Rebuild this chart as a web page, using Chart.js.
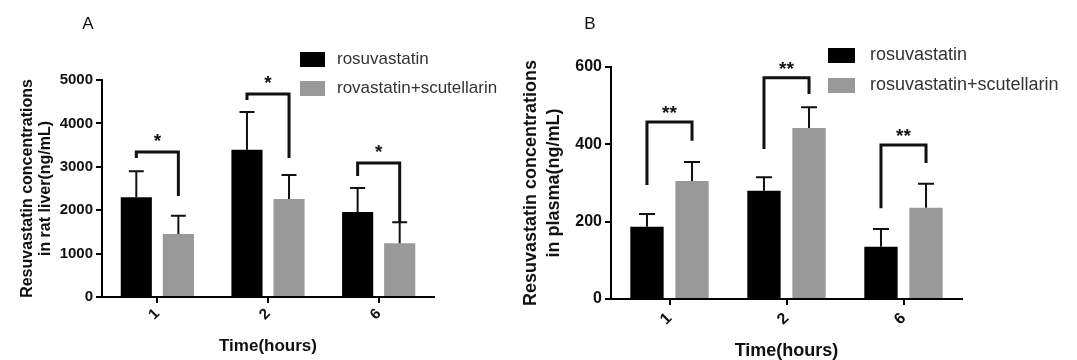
<!DOCTYPE html>
<html>
<head>
<meta charset="utf-8">
<script src="https://cdn.jsdelivr.net/npm/chart.js@4.4.1/dist/chart.umd.min.js"></script>
<style>
  body { margin: 0; background: #fff; }
  #wrap { position: relative; width: 1077px; height: 360px; overflow: hidden; }
  #liver-chart { position: absolute; left: 0; top: 0; }
  #plasma-chart { position: absolute; left: 490px; top: 0; }
</style>
</head>
<body>
<div id="wrap">
  <canvas id="liver-chart" width="540" height="360"></canvas>
  <canvas id="plasma-chart" width="587" height="360"></canvas>
</div>
<script>
// ==============================
// Data
// ==============================
const hours = ["1", "2", "6"];

// A: rat liver, ng/mL
const liverRosu = [2300, 3390, 1960];
const liverRosuSd = [600, 870, 550];
const liverScut = [1450, 2260, 1240];
const liverScutSd = [420, 550, 480];
const liverBracketTop = [3340, 4680, 3090];
const liverBracketLeft = [3200, 4540, 2790];
const liverBracketRight = [2330, 3200, 1730];
const liverStars = ["*", "*", "*"];

// B: plasma, ng/mL
const plasmaRosu = [187, 280, 135];
const plasmaRosuSd = [33, 35, 46];
const plasmaScut = [305, 442, 236];
const plasmaScutSd = [49, 54, 62];
const plasmaBracketTop = [458, 572, 398];
const plasmaBracketLeft = [295, 388, 235];
const plasmaBracketRight = [409, 530, 352];
const plasmaStars = ["**", "**", "**"];

const FONT = "'Liberation Sans', Arial, sans-serif";
const INK = "#111";

// ==============================
// Plugins
// ==============================
const errorBars = {
    id: "errorBars",
    afterDatasetsDraw(chart, args, opts) {
        const ctx = chart.ctx;
        const yScale = chart.scales.y;
        ctx.save();
        ctx.strokeStyle = INK;
        ctx.lineWidth = 2;
        chart.data.datasets.forEach(function (ds, i) {
            const meta = chart.getDatasetMeta(i);
            meta.data.forEach(function (bar, j) {
                const top = yScale.getPixelForValue(ds.data[j] + ds.errors[j]);
                ctx.beginPath();
                ctx.moveTo(bar.x, bar.y);
                ctx.lineTo(bar.x, top);
                ctx.moveTo(bar.x - opts.cap / 2, top);
                ctx.lineTo(bar.x + opts.cap / 2, top);
                ctx.stroke();
            });
        });
        ctx.restore();
    }
};

const sigBrackets = {
    id: "sigBrackets",
    afterDatasetsDraw(chart, args, opts) {
        const ctx = chart.ctx;
        const yScale = chart.scales.y;
        const a = chart.getDatasetMeta(0).data;
        const b = chart.getDatasetMeta(1).data;
        ctx.save();
        ctx.strokeStyle = INK;
        ctx.fillStyle = INK;
        ctx.lineWidth = 3;
        ctx.lineJoin = "miter";
        ctx.font = opts.font;
        ctx.textAlign = "center";
        ctx.textBaseline = "alphabetic";
        opts.top.forEach(function (v, j) {
            const yTop = yScale.getPixelForValue(v);
            ctx.beginPath();
            ctx.moveTo(a[j].x, yScale.getPixelForValue(opts.left[j]));
            ctx.lineTo(a[j].x, yTop);
            ctx.lineTo(b[j].x, yTop);
            ctx.lineTo(b[j].x, yScale.getPixelForValue(opts.right[j]));
            ctx.stroke();
            ctx.fillText(opts.labels[j], (a[j].x + b[j].x) / 2, yTop - opts.gap);
        });
        ctx.restore();
    }
};

const boxLegend = {
    id: "boxLegend",
    afterDraw(chart, args, opts) {
        const ctx = chart.ctx;
        ctx.save();
        ctx.font = opts.font;
        ctx.textBaseline = "middle";
        ctx.textAlign = "left";
        chart.data.datasets.forEach(function (ds, i) {
            const top = opts.y + i * opts.rowGap;
            ctx.fillStyle = ds.backgroundColor;
            ctx.fillRect(opts.x, top, opts.boxWidth, opts.boxHeight);
            ctx.fillStyle = "#333";
            ctx.fillText(ds.label, opts.x + opts.boxWidth + opts.textGap, top + opts.boxHeight / 2);
        });
        // panel letter
        ctx.fillStyle = INK;
        ctx.font = "17px " + FONT;
        ctx.textAlign = "center";
        ctx.fillText(opts.panel, opts.panelX, 24);
        ctx.restore();
    }
};

// ==============================
// Build charts
// ==============================
function makeChart(canvasId, cfg) {
    const tickFont = { family: FONT, size: cfg.tickSize, weight: "bold" };
    return new Chart(document.getElementById(canvasId), {
        type: "bar",
        data: {
            labels: hours,
            datasets: [
                {
                    label: "rosuvastatin",
                    data: cfg.black,
                    errors: cfg.blackSd,
                    backgroundColor: "#000000",
                    borderWidth: 0,
                    categoryPercentage: cfg.catPct,
                    barPercentage: 0.74
                },
                {
                    label: cfg.greyLabel,
                    data: cfg.grey,
                    errors: cfg.greySd,
                    backgroundColor: "#999999",
                    borderWidth: 0,
                    categoryPercentage: cfg.catPct,
                    barPercentage: 0.74
                }
            ]
        },
        options: {
            responsive: false,
            animation: false,
            layout: { padding: cfg.padding },
            plugins: {
                legend: { display: false },
                tooltip: { enabled: false },
                errorBars: { cap: cfg.cap },
                sigBrackets: {
                    top: cfg.bracketTop,
                    left: cfg.bracketLeft,
                    right: cfg.bracketRight,
                    labels: cfg.stars,
                    font: "bold 19px " + FONT,
                    gap: cfg.starGap
                },
                boxLegend: cfg.legend
            },
            scales: {
                x: {
                    offset: true,
                    grid: { drawOnChartArea: false, offset: false, color: "#000", lineWidth: 2, tickLength: 6 },
                    border: { color: "#000", width: 2 },
                    ticks: { minRotation: 45, maxRotation: 45, font: tickFont, color: INK, padding: cfg.xTickPad },
                    title: {
                        display: true,
                        text: "Time(hours)",
                        color: INK,
                        font: { family: FONT, size: cfg.xTitleSize, weight: "bold", lineHeight: cfg.xTitleLh },
                        padding: { top: 0, bottom: cfg.xTitlePad }
                    },
                    afterFit: function (scale) { scale.height = cfg.xHeight; }
                },
                y: {
                    min: 0,
                    max: cfg.yMax,
                    grid: { drawOnChartArea: false, color: "#000", lineWidth: 2, tickLength: 6 },
                    border: { color: "#000", width: 2 },
                    ticks: {
                        stepSize: cfg.yStep,
                        font: tickFont,
                        color: INK,
                        padding: 3,
                        callback: function (value) { return String(value); }
                    },
                    title: {
                        display: true,
                        text: cfg.yTitle,
                        color: INK,
                        font: { family: FONT, size: cfg.yTitleSize, weight: "bold", lineHeight: cfg.yTitleLh },
                        padding: { top: cfg.yTitlePad, bottom: 0 }
                    },
                    afterFit: function (scale) { scale.width = cfg.yWidth; }
                }
            }
        },
        plugins: [errorBars, sigBrackets, boxLegend]
    });
}

const liverChart = makeChart("liver-chart", {
    black: liverRosu, blackSd: liverRosuSd,
    grey: liverScut, greySd: liverScutSd,
    greyLabel: "rovastatin+scutellarin",
    bracketTop: liverBracketTop, bracketLeft: liverBracketLeft, bracketRight: liverBracketRight,
    stars: liverStars, starGap: 5,
    yMax: 5000, yStep: 1000,
    yTitle: ["Resuvastatin concentrations", "in rat liver(ng/mL)"],
    yTitleSize: 16, yTitlePad: 18, yTitleLh: 1.15,
    xTitleSize: 17, xTitlePad: 3, xTitleLh: 1.2, xTickPad: 2,
    tickSize: 15, catPct: 0.76, cap: 15,
    xHeight: 63, yWidth: 102,
    padding: { left: 0, top: 80, right: 106, bottom: 0 },
    legend: { x: 300, y: 52, boxWidth: 25, boxHeight: 15, rowGap: 29, textGap: 12,
              font: "17px " + FONT, panel: "A", panelX: 88 }
});

const plasmaChart = makeChart("plasma-chart", {
    black: plasmaRosu, blackSd: plasmaRosuSd,
    grey: plasmaScut, greySd: plasmaScutSd,
    greyLabel: "rosuvastatin+scutellarin",
    bracketTop: plasmaBracketTop, bracketLeft: plasmaBracketLeft, bracketRight: plasmaBracketRight,
    stars: plasmaStars, starGap: 3,
    yMax: 600, yStep: 200,
    yTitle: ["Resuvastatin concentrations", "in plasma(ng/mL)"],
    yTitleSize: 18, yTitlePad: 29, yTitleLh: 1.3,
    xTitleSize: 18, xTitlePad: 0, xTitleLh: 1.0, xTickPad: 4,
    tickSize: 16, catPct: 0.77, cap: 16,
    xHeight: 61, yWidth: 121,
    padding: { left: 0, top: 67, right: 115, bottom: 0 },
    legend: { x: 338, y: 48, boxWidth: 27, boxHeight: 15, rowGap: 30, textGap: 15,
              font: "18px " + FONT, panel: "B", panelX: 100 }
});
</script>
</body>
</html>
